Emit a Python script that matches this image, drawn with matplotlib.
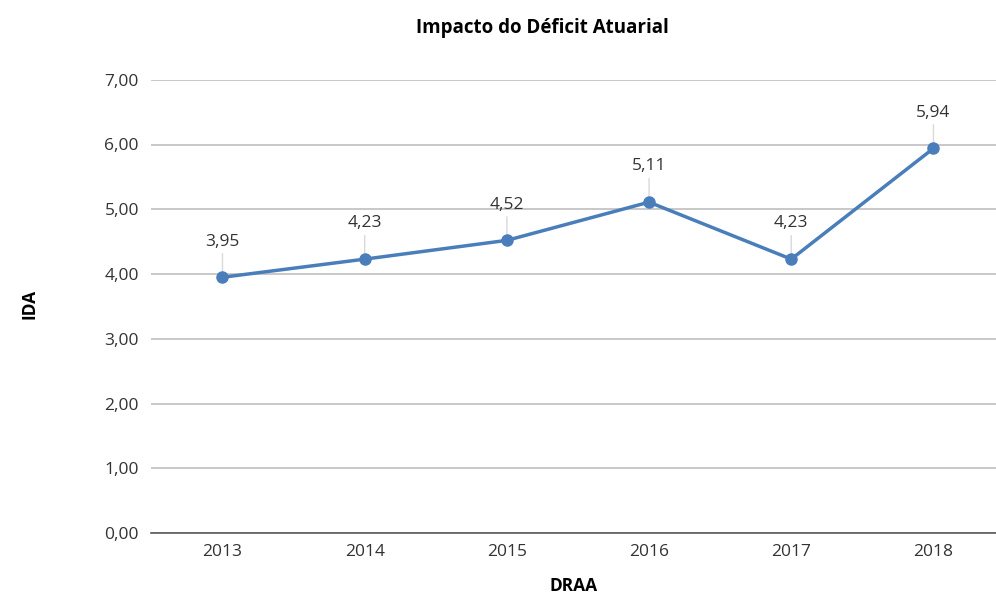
import matplotlib.pyplot as plt
import numpy as np

plt.rcParams['font.family'] = ['Open Sans', 'DejaVu Sans']

years = ['2013', '2014', '2015', '2016', '2017', '2018']
ida = [3.95, 4.23, 4.52, 5.11, 4.23, 5.94]
yticks = [0, 1, 2, 3, 4, 5, 6, 7]


def fmt(v):
    return ('%.2f' % v).replace('.', ',')


fig = plt.figure(figsize=(9.96, 5.95), dpi=100)
ax = fig.add_axes([0.152, 0.104, 0.848, 0.762])

x = np.arange(len(years))
ax.plot(x, ida, color='#4a7ebb', lw=2.5, marker='o', ms=8, zorder=3)

# data labels with leader lines
for xi, v in zip(x, ida):
    ax.annotate('', xy=(xi, v), xytext=(0, 19), textcoords='offset points',
                arrowprops=dict(arrowstyle='-', color='#d9d9d9', lw=1), zorder=1)
    ax.annotate(fmt(v), xy=(xi, v), xytext=(0, 20), textcoords='offset points',
                ha='center', va='bottom', fontsize=12.5, color='#333333')

ax.set_xlim(-0.5, 5.44)
ax.set_ylim(0, 7)
ax.set_xticks(x)
ax.set_xticklabels(years)
ax.set_yticks(yticks)
ax.set_yticklabels([fmt(t) for t in yticks])
ax.tick_params(axis='both', length=0, labelsize=12.5, colors='#333333')
ax.tick_params(axis='y', pad=9)
ax.tick_params(axis='x', pad=8)

ax.grid(axis='y', color='#bfbfbf', lw=1.2)
ax.set_axisbelow(True)
for s in ['top', 'right', 'left']:
    ax.spines[s].set_visible(False)
ax.spines['bottom'].set_color('#595959')
ax.spines['bottom'].set_linewidth(1.2)

ax.set_xlabel('DRAA', fontsize=12.5, fontweight='bold', labelpad=12)
fig.text(0.03, 0.49, 'IDA', rotation=90, fontsize=12.5, fontweight='bold',
         ha='center', va='center')
fig.text(0.545, 0.953, 'Impacto do Déficit Atuarial', fontsize=13.5,
         fontweight='bold', ha='center', va='center')

fig.savefig('out.png', dpi=100)
